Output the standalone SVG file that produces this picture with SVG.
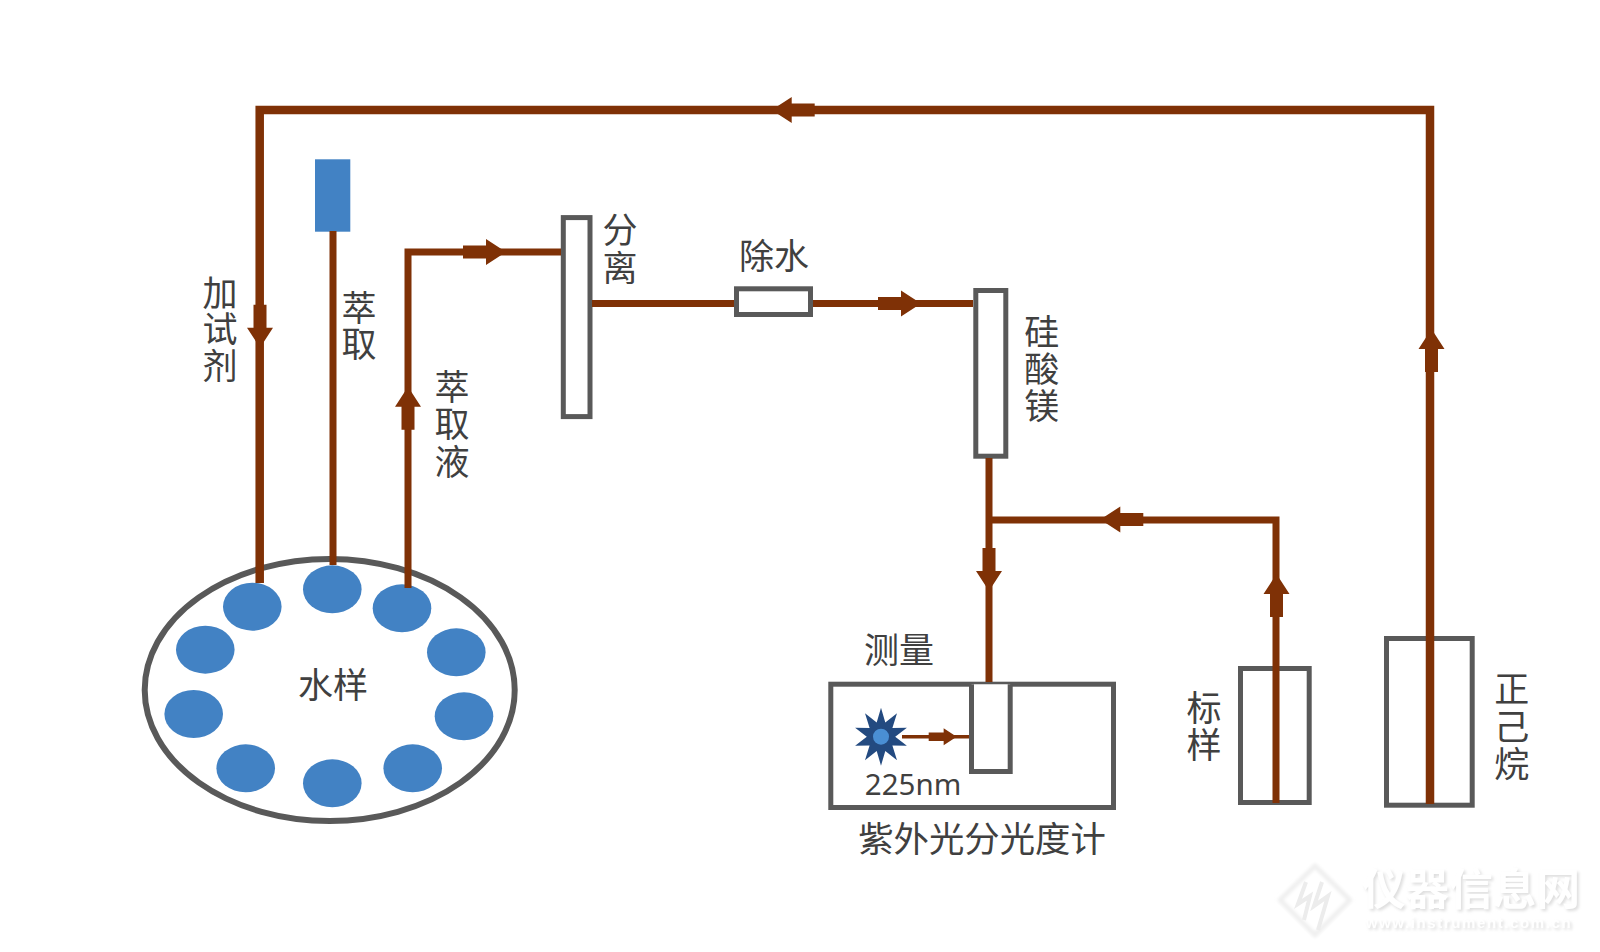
<svg xmlns="http://www.w3.org/2000/svg" width="1600" height="952" viewBox="0 0 1600 952">
  <style>
    text { font-family: "Noto Sans CJK SC", "Noto Sans", sans-serif; font-size: 35px; fill: #404040; text-anchor: middle; }
    .latin { font-family: "Noto Sans", "Liberation Sans", sans-serif; font-size: 29.5px; }
    .wide { font-size: 35.4px; }
    .box { fill: #fff; stroke: #595959; stroke-width: 5; }
    .well { fill: #4282c4; }
    .pipe { fill: none; stroke: #7f3106; stroke-width: 7; stroke-linejoin: miter; }
    .pipe.main { stroke-width: 8.5; }
    .arrow { fill: #7f3106; }
    .mark { font-size: 43.6px; font-weight: 700; fill: #fff; filter: url(#lift); }
    .url { font-family: "Liberation Sans", sans-serif; font-size: 15px; font-weight: 700; letter-spacing: 1.6px; fill: #fff; filter: url(#lift); }
  </style>
  <defs>
    <path id="arrow" class="arrow" d="M3 0L-17-13V-6.5H-40V6.5H-17V13Z"/>
    <filter id="soft" x="-20%" y="-20%" width="140%" height="140%"><feGaussianBlur stdDeviation="1.8"/></filter>
    <filter id="lift" x="-5%" y="-30%" width="110%" height="160%">
      <feDropShadow dx="2" dy="2" stdDeviation="1.6" flood-color="#dedede"/>
    </filter>
  </defs>
  <rect width="1600" height="952" fill="#fff"/>

  <!-- maker's mark, bottom right -->
  <g id="mark">
    <path d="M1315 866L1350 900L1315 935L1280 900Z" fill="#fff" stroke="#f0f0f0" stroke-width="5" stroke-linejoin="round" filter="url(#soft)"/>
    <path d="M1306 882L1298 904L1310 896L1304 920M1322 882L1314 906L1328 896L1318 930" fill="none" stroke="#ececec" stroke-width="4"/>
    <text class="mark" x="1471" y="905">仪器信息网</text>
    <text class="url" x="1469" y="928">www.instrument.com.cn</text>
  </g>

  <g id="sampler">
    <ellipse cx="329.7" cy="690" rx="185" ry="131" fill="#fff" stroke="#595959" stroke-width="6"/>
    <ellipse class="well" cx="252.3" cy="606.7" rx="29.3" ry="24"/>
    <ellipse class="well" cx="332.3" cy="589.3" rx="29.3" ry="24"/>
    <ellipse class="well" cx="402" cy="608.3" rx="29.3" ry="24"/>
    <ellipse class="well" cx="456.3" cy="652.3" rx="29.3" ry="24"/>
    <ellipse class="well" cx="464" cy="716.3" rx="29.3" ry="24"/>
    <ellipse class="well" cx="412.7" cy="768.3" rx="29.3" ry="24"/>
    <ellipse class="well" cx="332.3" cy="783.3" rx="29.3" ry="24"/>
    <ellipse class="well" cx="245.7" cy="768.3" rx="29.3" ry="24"/>
    <ellipse class="well" cx="193.7" cy="714" rx="29.3" ry="24"/>
    <ellipse class="well" cx="205.3" cy="649.7" rx="29.3" ry="24"/>
    <text x="333" y="698">水样</text>
  </g>

  <g id="extractant">
    <rect class="well" x="315" y="159.3" width="35.3" height="72.4"/>
    <text><tspan x="359" y="321">萃</tspan><tspan x="359" y="357">取</tspan></text>
  </g>

  <g id="reagent-label">
    <text><tspan x="220" y="306">加</tspan><tspan x="220" y="342">试</tspan><tspan x="220" y="379">剂</tspan></text>
  </g>

  <g id="extract-label">
    <text><tspan x="452" y="400">萃</tspan><tspan x="452" y="437">取</tspan><tspan x="452" y="475">液</tspan></text>
  </g>

  <g id="separator">
    <rect class="box" x="563.3" y="217.6" width="26.7" height="199"/>
    <text><tspan x="620" y="243">分</tspan><tspan x="620" y="281">离</tspan></text>
  </g>

  <g id="dryer">
    <rect class="box" x="736.5" y="288.8" width="74" height="25.7"/>
    <text x="774" y="269">除水</text>
  </g>

  <g id="silicate">
    <rect class="box" x="975.8" y="290.5" width="30" height="165.7"/>
    <text><tspan x="1041.7" y="345">硅</tspan><tspan x="1041.7" y="382">酸</tspan><tspan x="1041.7" y="419">镁</tspan></text>
  </g>

  <g id="spectrophotometer">
    <rect class="box" x="830.8" y="684.2" width="282.7" height="123.3"/>
    <path class="box" d="M971.5 684.2V771.5H1010.2V684.2"/>
    <polygon fill="#234a80" points="881,707.7 885.3,722.4 897,713.2 892.4,727.9 906.9,727.7 895.2,736.7 906.9,745.7 892.4,745.5 897,760.2 885.3,751 881,765.7 876.7,751 865,760.2 869.6,745.5 855.1,745.7 866.8,736.7 855.1,727.7 869.6,727.9 865,713.2 876.7,722.4"/>
    <circle cx="881" cy="736.7" r="8" fill="#4a8fd4"/>
    <text class="latin" x="913" y="794.5">225nm</text>
    <text class="wide" x="982" y="852">紫外光分光度计</text>
    <text x="899" y="663">测量</text>
  </g>

  <g id="standard">
    <rect class="box" x="1240.5" y="668.5" width="68.7" height="134"/>
    <text><tspan x="1204" y="721">标</tspan><tspan x="1204" y="758">样</tspan></text>
  </g>

  <g id="hexane">
    <rect class="box" x="1386.5" y="638.5" width="85.7" height="166.7"/>
    <text><tspan x="1511.7" y="702">正</tspan><tspan x="1511.7" y="740">己</tspan><tspan x="1511.7" y="777">烷</tspan></text>
  </g>

  <g id="connectors">
    <path class="pipe main" d="M1430 804V110H259.7V583"/>
    <path class="pipe" d="M333 231V565"/>
    <path class="pipe" d="M408 588V252H561"/>
    <path class="pipe" d="M592 303.5H734"/>
    <path class="pipe" d="M813 303.5H973"/>
    <path class="pipe" d="M989 458V682"/>
    <path class="pipe" d="M1276 803V520H989"/>
    <path class="pipe" d="M902 736.7H969" style="stroke-width:3.5"/>

    <use href="#arrow" transform="translate(774.7 110) rotate(180)"/>
    <use href="#arrow" transform="translate(260 344.7) rotate(90)"/>
    <use href="#arrow" transform="translate(408 389.7) rotate(-90)"/>
    <use href="#arrow" transform="translate(503 252)"/>
    <use href="#arrow" transform="translate(918 303.5)"/>
    <use href="#arrow" transform="translate(1103.3 519.5) rotate(180)"/>
    <use href="#arrow" transform="translate(989 588) rotate(90)"/>
    <use href="#arrow" transform="translate(1276.5 577) rotate(-90)"/>
    <use href="#arrow" transform="translate(1431.5 332) rotate(-90)"/>
    <use href="#arrow" transform="translate(954.7 736.7) scale(.65)"/>
  </g>
</svg>
